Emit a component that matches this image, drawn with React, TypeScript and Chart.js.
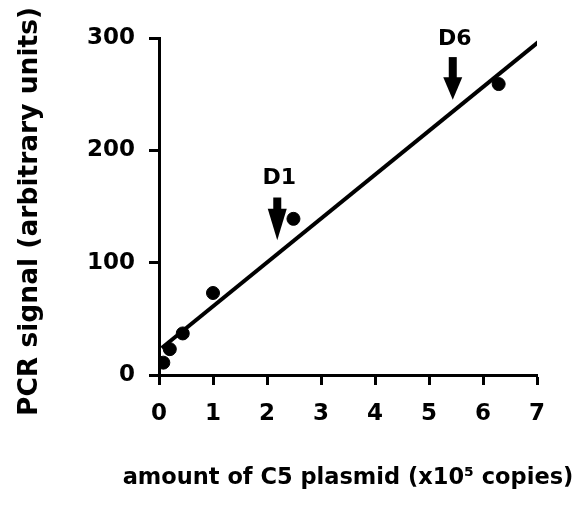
import React, { useEffect, useRef } from "react";
import { Chart, registerables } from "chart.js";

Chart.register(...registerables);

// measured data points
const plasmidCopies = [0.08, 0.2, 0.44, 1.0, 2.49, 6.29];
const pcrSignal = [11, 23, 37, 73, 139, 259];

// regression line end points
const fitX = [0.05, 7.09];
const fitY = [24, 299];

// arrow annotations
const arrowLabels = ["D1", "D6"];
const arrowX = [2.19, 5.44];
const arrowTop = [158, 283];
const arrowTip = [120, 245];
const arrowHeadStart = [148, 265];
const arrowLabelY = [175, 299];

const xTicks = [0, 1, 2, 3, 4, 5, 6, 7];
const yTicks = [0, 100, 200, 300];

const xTitle = "amount of C5 plasmid (x10⁵ copies)";
const yTitle = "PCR signal (arbitrary units)";

const FONT = "'DejaVu Sans', 'Liberation Sans', Arial, sans-serif";

const arrowPlugin = {
  id: "arrows",
  afterDraw(chart: any) {
    const { ctx, scales, chartArea } = chart;
    const xs = scales.x;
    const ys = scales.y;
    ctx.save();
    ctx.fillStyle = "#000";
    for (let i = 0; i < arrowLabels.length; i++) {
      const cx = xs.getPixelForValue(arrowX[i]);
      const top = ys.getPixelForValue(arrowTop[i]);
      const tip = ys.getPixelForValue(arrowTip[i]);
      const hs = ys.getPixelForValue(arrowHeadStart[i]);
      const shaftW = 8;
      const headW = 19;
      ctx.fillRect(cx - shaftW / 2, top, shaftW, hs - top + 1);
      ctx.beginPath();
      ctx.moveTo(cx - headW / 2, hs);
      ctx.lineTo(cx + headW / 2, hs);
      ctx.lineTo(cx, tip);
      ctx.closePath();
      ctx.fill();
      ctx.font = `bold 22px ${FONT}`;
      ctx.textAlign = "center";
      ctx.textBaseline = "middle";
      ctx.fillText(arrowLabels[i], cx + 2, ys.getPixelForValue(arrowLabelY[i]));
    }
    // axis titles (drawn without width compression)
    ctx.textAlign = "center";
    ctx.textBaseline = "middle";
    ctx.font = `bold 22.5px ${FONT}`;
    ctx.fillText(xTitle, (chartArea.left + chartArea.right) / 2, chart.height - 30);
    ctx.translate(30, (chartArea.top + chartArea.bottom) / 2 + 5);
    ctx.rotate(-Math.PI / 2);
    ctx.font = `bold 26.5px ${FONT}`;
    ctx.fillText(yTitle, 0, 0);
    ctx.restore();
  },
};

export default function App() {
  const ref = useRef<HTMLCanvasElement>(null);
  useEffect(() => {
    if (!ref.current) return;
    const chart = new Chart(ref.current, {
      type: "scatter",
      data: {
        datasets: [
          {
            type: "line",
            data: fitX.map((x, i) => ({ x, y: fitY[i] })),
            borderColor: "#000",
            borderWidth: 4,
            pointRadius: 0,
            fill: false,
          } as any,
          {
            data: plasmidCopies.map((x, i) => ({ x, y: pcrSignal[i] })),
            backgroundColor: "#000",
            borderColor: "#000",
            pointRadius: 6.5,
          },
        ],
      },
      options: {
        responsive: false,
        animation: false,
        events: [],
        layout: { padding: { left: 0, top: 38, right: 44, bottom: 0 } },
        plugins: { legend: { display: false }, tooltip: { enabled: false } },
        scales: {
          x: {
            type: "linear",
            min: 0,
            max: 7,
            afterFit: (s: any) => {
              s.height = 133;
            },
            afterBuildTicks: (s: any) => {
              s.ticks = xTicks.map((v) => ({ value: v }));
            },
            border: { display: true, color: "#000", width: 3 },
            grid: {
              drawOnChartArea: false,
              drawTicks: true,
              tickLength: 10,
              tickWidth: 3,
              tickColor: "#000",
            },
            ticks: {
              color: "#000",
              padding: 15,
              font: { family: FONT, size: 23, weight: "bold" },
            },
          },
          y: {
            type: "linear",
            min: 0,
            max: 300,
            afterFit: (s: any) => {
              s.width = 159;
            },
            afterBuildTicks: (s: any) => {
              s.ticks = yTicks.map((v) => ({ value: v }));
            },
            border: { display: true, color: "#000", width: 3 },
            grid: {
              drawOnChartArea: false,
              drawTicks: true,
              tickLength: 10,
              tickWidth: 3,
              tickColor: "#000",
            },
            ticks: {
              color: "#000",
              padding: 14,
              font: { family: FONT, size: 23, weight: "bold" },
            },
          },
        },
      },
      plugins: [arrowPlugin],
    });
    return () => chart.destroy();
  }, []);
  return (
    <div style={{ position: "fixed", left: 0, top: 0, width: 581, height: 508, background: "#fff" }}>
      <canvas ref={ref} width={581} height={508} />
    </div>
  );
}
